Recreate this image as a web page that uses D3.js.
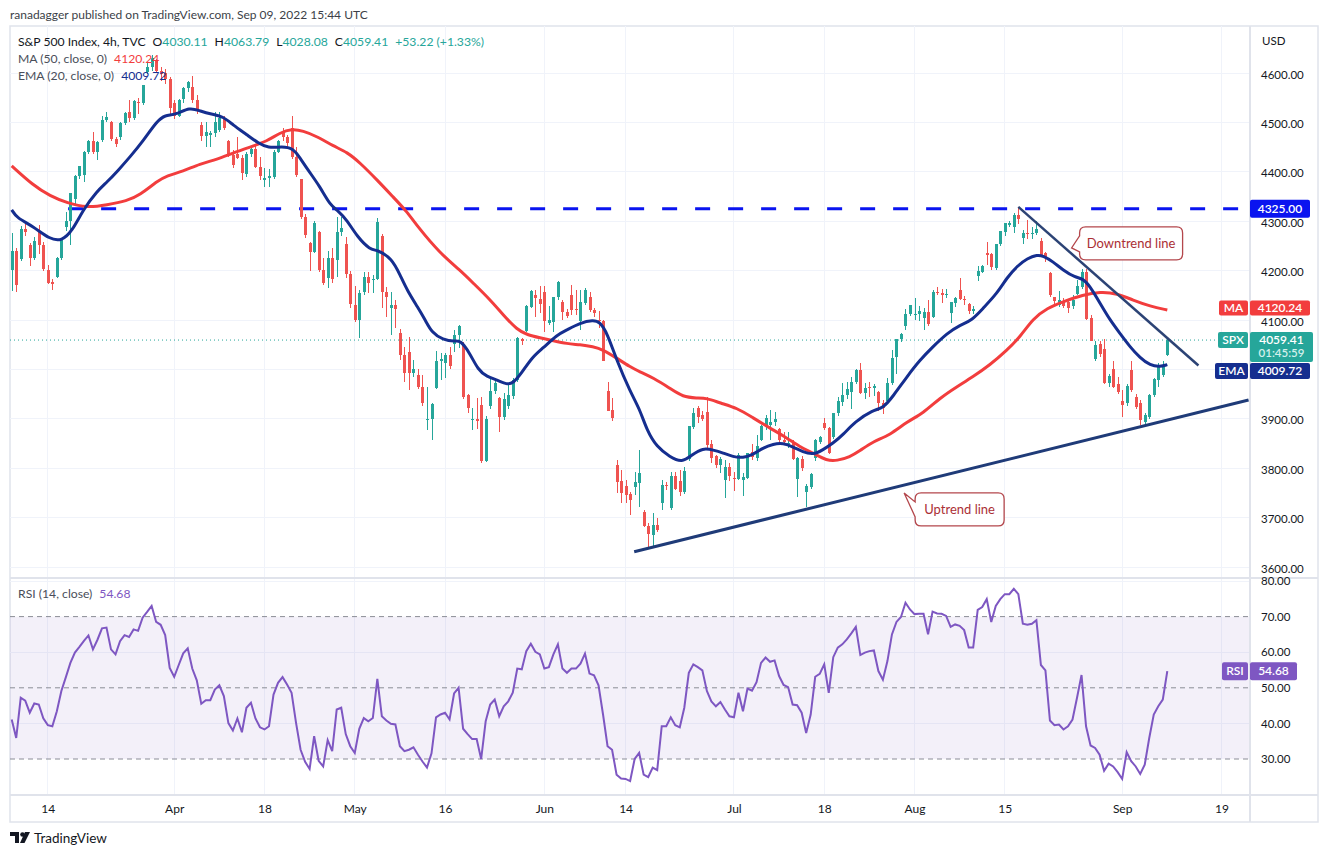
<!DOCTYPE html>
<html>
<head>
<meta charset="utf-8">
<script src="https://cdn.jsdelivr.net/npm/d3@7"></script>
<style>
  body { margin: 0; background: #fff; }
  svg text { font-family: Lato, "Noto Sans", sans-serif; }
</style>
</head>
<body>
<div id="chart"></div>
<script>
// ---- data (4h candles, 8 Mar - 9 Sep 2022) ----
var opens = [
4202,4240,4223,4285,4252,4226,4279,4252,4202,4177,
4188,4225,4288,4300,4345,4391,4394,4440,4462,4440,
4465,4505,4500,4466,4470,4498,4522,4508,4541,4540,
4602,4612,4624,4605,4599,4588,4540,4512,4547,4570,
4572,4545,4494,4472,4474,4478,4485,4508,4462,4434,
4437,4428,4395,4437,4447,4410,4384,4387,4390,4441,
4478,4470,4489,4430,4385,4308,4255,4238,4278,4201,
4186,4225,4222,4279,4253,4194,4130,4100,4157,4188,
4181,4184,4270,4157,4124,4130,4074,4030,4036,3992,
3989,3965,3897,3900,3963,4016,4013,4029,4052,4070,
4051,3948,3899,3900,3927,3815,3926,3956,3942,3904,
3925,3946,3979,4061,4077,4127,4151,4142,4157,4093,
4095,4147,4137,4117,4151,4122,4097,4135,4147,4120,
4101,4097,3956,3917,3807,3775,3764,3748,3761,3771,
3712,3682,3665,3685,3729,3766,3720,3785,3774,3751,
3819,3884,3921,3908,3913,3850,3825,3807,3776,3803,
3781,3778,3776,3781,3833,3820,3857,3884,3888,3894,
3880,3858,3851,3852,3779,3819,3751,3761,3820,3854,
3892,3881,3864,3911,3933,3948,3955,3975,3999,3952,
3965,3962,3954,3931,3936,3972,4026,4061,4087,4112,
4112,4113,4104,4117,4107,4157,4154,4150,4115,4135,
4161,4142,4133,4118,4189,4198,4236,4233,4205,4254,
4279,4292,4289,4313,4267,4277,4275,4276,4259,4235,
4196,4146,4130,4139,4137,4128,4153,4166,4198,4105,
4022,4051,4041,3972,4000,3970,3936,3931,3999,3945,
3931,3894,3904,3948,3979,3989,4030.11];
var highs = [
4276,4245,4290,4298,4256,4269,4292,4258,4212,4182,
4228,4265,4318,4358,4393,4412,4442,4465,4481,4462,
4512,4522,4502,4470,4500,4521,4546,4546,4550,4576,
4620,4637,4628,4612,4608,4592,4545,4548,4572,4584,
4593,4556,4500,4500,4482,4521,4521,4512,4464,4445,
4471,4434,4440,4452,4452,4430,4407,4405,4445,4465,
4488,4475,4512,4450,4386,4315,4258,4300,4280,4225,
4240,4245,4309,4308,4269,4200,4169,4160,4198,4198,
4191,4306,4275,4167,4157,4140,4081,4046,4066,4020,
4000,3989,3965,3931,4038,4033,4033,4046,4080,4090,
4055,3950,3921,3942,3944,3905,3982,3982,3945,3952,
3969,3982,4065,4063,4130,4160,4161,4168,4168,4128,
4147,4178,4141,4122,4171,4161,4161,4164,4157,4124,
4119,4100,3974,3942,3817,3796,3776,3752,3793,3837,
3715,3690,3709,3700,3776,3772,3793,3793,3796,3803,
3886,3921,3925,3915,3945,3858,3827,3822,3817,3810,
3792,3830,3790,3831,3850,3867,3888,3908,3918,3914,
3881,3874,3873,3858,3822,3825,3768,3790,3860,3866,
3902,3884,3912,3945,3972,3975,3985,4000,4013,3972,
3975,3970,3956,3938,3982,4039,4061,4073,4122,4131,
4144,4128,4125,4140,4160,4167,4162,4163,4137,4147,
4186,4148,4135,4128,4210,4211,4258,4235,4254,4280,
4296,4300,4316,4326,4282,4302,4289,4300,4267,4237,
4198,4147,4159,4145,4140,4150,4180,4203,4203,4110,
4058,4058,4062,3990,4016,3985,3958,3970,4018,3950,
3938,3912,3950,3982,4012,4018,4063.79];
var lows = [
4158,4157,4220,4270,4209,4222,4234,4200,4172,4161,
4185,4222,4280,4251,4335,4385,4380,4436,4436,4424,
4460,4500,4462,4450,4465,4495,4501,4505,4517,4535,
4597,4605,4600,4583,4578,4516,4507,4510,4540,4562,
4540,4516,4462,4451,4450,4470,4480,4485,4430,4407,
4425,4383,4390,4430,4408,4384,4370,4370,4385,4438,
4462,4450,4425,4390,4305,4267,4200,4235,4198,4170,
4165,4175,4188,4270,4185,4125,4095,4063,4150,4154,
4154,4180,4124,4107,4070,4083,4020,3975,3958,3985,
3960,3925,3877,3857,3960,3979,3982,4000,4036,4043,
3940,3911,3877,3880,3810,3812,3920,3950,3874,3898,
3920,3940,3975,4050,4075,4125,4107,4114,4076,4090,
4076,4140,4100,4104,4110,4110,4080,4130,4117,4107,
4083,4016,3915,3896,3749,3729,3729,3705,3745,3722,
3680,3638,3638,3670,3715,3755,3716,3755,3744,3748,
3815,3880,3891,3895,3840,3810,3800,3790,3740,3775,
3753,3776,3743,3778,3817,3815,3855,3878,3858,3885,
3850,3847,3840,3817,3741,3795,3721,3758,3815,3850,
3878,3828,3860,3905,3925,3940,3920,3970,3950,3940,
3945,3946,3915,3910,3930,3968,3990,4055,4080,4108,
4099,4097,4080,4088,4105,4150,4134,4145,4094,4127,
4140,4130,4112,4112,4178,4195,4212,4201,4202,4250,
4270,4288,4277,4295,4254,4263,4263,4272,4228,4218,
4146,4128,4127,4125,4115,4122,4150,4162,4100,4057,
4017,4026,3970,3965,3962,3950,3903,3925,3955,3920,
3888,3886,3900,3945,3965,3985,4028.08];
var closes = [
4240,4170,4285,4278,4226,4260,4252,4204,4175,4173,
4225,4262,4300,4357,4391,4411,4440,4463,4440,4460,
4505,4511,4466,4456,4498,4520,4508,4543,4540,4575,
4612,4631,4605,4598,4588,4530,4512,4545,4570,4582,
4545,4525,4472,4481,4478,4500,4508,4488,4434,4413,
4428,4397,4437,4447,4410,4392,4387,4391,4441,4462,
4470,4459,4430,4393,4308,4272,4238,4296,4201,4175,
4225,4183,4279,4287,4194,4132,4100,4154,4188,4174,
4184,4299,4157,4147,4130,4123,4030,3992,3992,4001,
3965,3931,3900,3930,4018,4022,4029,4006,4070,4088,
3945,3921,3900,3895,3815,3900,3956,3972,3904,3940,
3948,3979,4063,4057,4128,4158,4144,4132,4097,4101,
4147,4176,4117,4108,4120,4121,4137,4160,4120,4115,
4097,4018,3915,3901,3773,3750,3746,3735,3773,3790,
3682,3666,3685,3674,3766,3763,3785,3757,3751,3794,
3885,3911,3904,3899,3847,3820,3807,3818,3803,3785,
3778,3827,3783,3830,3823,3844,3886,3901,3894,3899,
3858,3854,3852,3819,3820,3801,3763,3788,3857,3863,
3881,3830,3912,3937,3948,3960,3975,3999,3952,3962,
3962,3967,3931,3921,3972,4023,4061,4072,4112,4130,
4113,4119,4117,4091,4157,4155,4150,4152,4137,4145,
4142,4140,4119,4122,4199,4210,4232,4207,4254,4280,
4296,4297,4313,4305,4277,4274,4277,4284,4232,4228,
4150,4138,4141,4128,4124,4141,4168,4198,4103,4058,
4050,4031,3972,3986,3965,3955,3928,3967,3958,3924,
3898,3908,3948,3980,4009,4006,4059.41];

// MA(50) and EMA(20) read at [candle index, value]
var maPts = [[0,4412],[4.7,4373],[8.5,4351],[12.3,4337],[16.7,4327],[21.1,4333],[25.5,4341],[28.4,4353],
[32.2,4381],[34.4,4392],[37.9,4401],[41.7,4416],[45.5,4425],[49,4438],[52.8,4450],[56.6,4462],[59.4,4479],
[62.1,4487],[64.5,4483],[67.6,4472],[71.2,4452],[74.3,4440],[77.2,4418],[81,4383],[84.5,4349],[87.6,4319],
[90,4288],[94.9,4235],[99.3,4201],[102.2,4175],[106,4141],[108.9,4110],[112,4080],[114.2,4070],[117,4064],
[120,4058],[123,4052],[125.9,4050],[128.8,4046],[131,4040],[134,4023],[137,4005],[139.2,3995],[142.1,3983],
[145.8,3962],[148.7,3944],[151.8,3942],[154,3942],[156.9,3932],[160.7,3922],[164.2,3902],[168,3881],
[171.8,3861],[174.6,3843],[177.5,3831],[180.6,3815],[182.8,3815],[185.7,3823],[187.9,3835],[190.8,3854],
[194.6,3867],[198.3,3894],[201.9,3911],[205.6,3942],[209.4,3965],[212.9,3985],[216.7,4009],[220.5,4039],
[223.4,4066],[226.3,4103],[229.4,4124],[232.9,4137],[237.3,4151],[241.1,4157],[244.9,4154],[248.4,4140],
[252.2,4128],[256,4120.24]];
var emaPts = [[0,4323],[1.1,4307],[4.7,4290],[8.5,4263],[11.1,4260],[13.4,4280],[15.8,4323],[18.9,4361],
[21.1,4379],[23.5,4402],[26.2,4430],[29.1,4462],[32.2,4503],[34,4515],[36.2,4515],[39.5,4531],[41.7,4523],
[44.6,4516],[46.8,4512],[49,4495],[52.1,4475],[54.6,4458],[56.8,4448],[59.9,4451],[62.3,4448],[63.9,4428],
[65.6,4404],[68.3,4370],[70.5,4333],[72.3,4321],[74.3,4302],[76.5,4269],[79.4,4242],[81,4242],[84.2,4225],
[86.1,4190],[87.6,4160],[90,4125],[91.6,4100],[93.1,4074],[95.5,4060],[98.2,4056],[99.3,4060],[101.5,4033],
[103.3,3999],[105.3,3985],[107.5,3979],[109.7,3969],[111.1,3972],[113,3993],[115.3,4025],[117.7,4043],
[120.8,4070],[123,4080],[125.9,4094],[128.8,4100],[130.3,4096],[131.9,4074],[134,4019],[137,3955],
[139.2,3918],[140.7,3877],[142.9,3843],[145.8,3823],[148.5,3811],[150.7,3827],[153.1,3841],[155.4,3837],
[157.6,3831],[159.8,3823],[162,3821],[164.2,3827],[166.4,3841],[168.7,3849],[170.9,3851],[173.1,3843],
[175.3,3833],[177.5,3827],[179.7,3837],[182,3851],[184.2,3868],[186.8,3894],[190.8,3918],[193,3921],
[195.2,3945],[198.3,3985],[201.2,4019],[204.1,4046],[207.2,4073],[210.1,4090],[212.7,4099],[215.2,4124],
[218.3,4154],[220.5,4186],[222.7,4209],[225,4225],[227.2,4232],[228.5,4230],[230.7,4218],[232.9,4201],
[235.6,4186],[237.3,4184],[238.9,4168],[241.1,4134],[243.3,4100],[245.5,4073],[247.7,4046],[250,4023],
[252.2,4008],[254.4,4005],[256,4009.72]];

// RSI(14), one value per candle
var rsi = [
41.1,35.9,47.2,46.4,43.0,45.6,45.3,41.4,39.5,39.2,
43.4,49.1,53.0,57.0,59.9,61.5,63.2,64.7,60.8,63.5,
66.7,66.9,60.8,59.4,63.1,64.8,64.3,66.4,66.0,69.7,
71.3,73.0,68.5,67.7,64.8,55.6,53.1,56.4,59.7,61.1,
55.4,52.1,45.5,46.5,46.5,49.5,50.7,47.7,40.1,38.0,
41.4,37.5,44.4,45.8,41.4,38.9,38.3,39.2,48.1,51.4,
53.0,50.9,48.6,40.1,32.6,29.2,27.2,36.4,29.5,27.9,
35.3,32.2,43.9,44.4,37.0,33.6,31.7,38.5,41.5,40.6,
41.5,52.5,42.0,40.8,39.9,39.7,33.6,32.2,32.6,33.3,
31.2,29.3,27.6,31.6,41.7,42.5,43.0,41.1,48.4,50.0,
38.5,37.0,35.6,35.6,30.0,40.6,45.3,46.7,42.0,44.8,
46.2,48.6,55.4,55.2,60.3,62.4,60.1,59.4,55.4,55.8,
59.4,62.2,55.4,54.2,55.4,55.4,56.8,59.6,54.0,53.5,
50.7,42.5,33.6,32.6,25.6,24.5,24.4,23.8,30.0,31.7,
25.6,24.9,27.6,26.9,39.2,39.2,41.7,39.5,38.9,44.4,
54.2,56.6,55.8,54.9,49.1,46.2,44.8,46.0,43.9,42.0,
41.7,48.6,43.4,49.8,49.2,51.6,57.0,58.5,57.3,57.7,
53.3,50.8,50.2,45.3,45.1,43.0,37.3,42.5,53.1,53.9,
56.6,48.6,58.6,61.3,62.2,63.6,65.3,67.1,59.2,59.9,
60.3,60.5,54.7,52.3,57.5,65.0,68.5,69.9,73.9,72.0,
70.7,70.8,70.8,65.0,71.4,70.9,70.8,70.2,67.1,67.8,
67.4,66.2,61.3,61.3,71.9,72.7,74.9,68.5,73.0,74.9,
76.3,76.3,77.8,76.3,68.0,67.7,68.0,69.0,56.4,54.9,
40.8,39.5,39.7,38.3,39.2,41.1,47.2,53.6,39.2,33.8,
33.1,31.2,26.7,28.7,27.9,26.3,24.4,31.9,29.4,27.9,
25.8,28.4,35.9,42.5,44.8,46.7,54.68];

// x-axis: candle index of the first candle of each labelled day
var xTickIdx = [8, 36, 56, 76, 96, 118, 136, 160, 180, 200, 220, 246, 268];
var xTickLabels = ["14", "Apr", "18", "May", "16", "Jun", "14", "Jul", "18", "Aug", "15", "Sep", "19"];
var priceTicks = [3600, 3700, 3800, 3900, 4000, 4100, 4200, 4300, 4400, 4500, 4600];
var priceLabelTicks = [3600, 3700, 3800, 3900, 4100, 4200, 4300, 4400, 4500, 4600]; // 4000 sits under the EMA tag
var rsiTicks = [30, 40, 50, 60, 70, 80];

// drawings: [candle index, price]
var resistance = 4325;
var resistanceFrom = 12.5;
var uptrend = [[137.9, 3631], [274, 3938]];
var downtrend = [[223, 4329], [262.9, 4008]];
var lastPrice = 4059.41, maLast = 4120.24, emaLast = 4009.72, rsiLast = 54.68;

// ---- layout ----
var W = 1328, H = 857;
var L = 10, R = 1250, FR = 1318;
var pTop = 26, pBot = 578, rBot = 795, fBot = 822;

var col = {
  up: "#26a69a", down: "#ef5350", ma: "#f23d3d", ema: "#152e8f",
  rsi: "#7e57c2", grid: "#f0f3fa", border: "#e0e3eb", text: "#131722",
  note: "#ab2f35", level: "#0a14f0", trend: "#1f3b78"
};

var svg = d3.select("#chart").append("svg")
  .attr("width", W).attr("height", H);

var x = d3.scaleLinear().domain([0, 256]).range([11.7, 1167.3]);
var y = d3.scaleLinear().domain([3600, 4600]).range([567, 73]);
var yR = d3.scaleLinear().domain([30, 80]).range([759, 581]);

var defs = svg.append("defs");
defs.append("clipPath").attr("id", "clipP").append("rect")
  .attr("x", L).attr("y", pTop).attr("width", R - L).attr("height", pBot - pTop);
defs.append("clipPath").attr("id", "clipR").append("rect")
  .attr("x", L).attr("y", pBot).attr("width", R - L).attr("height", rBot - pBot);

// header line
svg.append("text").attr("x", 10).attr("y", 19)
  .attr("font-size", 12).attr("fill", "#3c3f48")
  .text("ranadagger published on TradingView.com, Sep 09, 2022 15:44 UTC");

// frame
svg.append("rect").attr("x", L).attr("y", pTop).attr("width", FR - L).attr("height", fBot - pTop)
  .attr("fill", "#fff").attr("stroke", col.border).attr("stroke-width", 1.5);

// grid
var grid = svg.append("g").attr("shape-rendering", "crispEdges");
grid.selectAll(".hg").data(priceTicks).enter().append("line")
  .attr("x1", L).attr("x2", R).attr("y1", function(d){ return y(d); }).attr("y2", function(d){ return y(d); })
  .attr("stroke", col.grid);
grid.selectAll(".vg").data(xTickIdx).enter().append("line")
  .attr("x1", function(d){ return x(d); }).attr("x2", function(d){ return x(d); })
  .attr("y1", pTop).attr("y2", rBot).attr("stroke", col.grid);

// RSI band + levels
svg.append("rect").attr("x", L).attr("width", R - L)
  .attr("y", yR(70)).attr("height", yR(30) - yR(70))
  .attr("fill", "rgba(126,87,194,0.09)");
grid.selectAll(".rg").data([40, 60, 80]).enter().append("line")
  .attr("x1", L).attr("x2", R).attr("y1", function(d){ return yR(d); }).attr("y2", function(d){ return yR(d); })
  .attr("stroke", col.grid);
svg.selectAll(".rl").data([70, 50, 30]).enter().append("line")
  .attr("x1", L).attr("x2", R).attr("y1", function(d){ return yR(d); }).attr("y2", function(d){ return yR(d); })
  .attr("stroke", "#8a8d96").attr("stroke-dasharray", "5,4").attr("stroke-width", 1);

// pane separators and axis border
var sep = svg.append("g").attr("stroke", col.border).attr("shape-rendering", "crispEdges");
sep.append("line").attr("x1", L).attr("x2", FR).attr("y1", pBot).attr("y2", pBot).attr("stroke-width", 2);
sep.append("line").attr("x1", L).attr("x2", FR).attr("y1", rBot).attr("y2", rBot).attr("stroke-width", 1.5);
sep.append("line").attr("x1", R).attr("x2", R).attr("y1", pTop).attr("y2", fBot).attr("stroke-width", 1.5);

var pane = svg.append("g").attr("clip-path", "url(#clipP)");

// resistance level
pane.append("line")
  .attr("x1", x(resistanceFrom)).attr("x2", R)
  .attr("y1", y(resistance)).attr("y2", y(resistance))
  .attr("stroke", col.level).attr("stroke-width", 3).attr("stroke-dasharray", "15,18");

// last price dotted line
pane.append("line").attr("x1", L).attr("x2", R)
  .attr("y1", y(lastPrice)).attr("y2", y(lastPrice))
  .attr("stroke", col.up).attr("stroke-width", 1).attr("stroke-dasharray", "1,3");

// candles
var candles = d3.range(closes.length).map(function(i){
  return { i: i, o: opens[i], h: highs[i], l: lows[i], c: closes[i] };
});
var cg = pane.append("g").attr("shape-rendering", "crispEdges");
var cand = cg.selectAll("g.c").data(candles).enter().append("g");
cand.append("line")
  .attr("x1", function(d){ return Math.round(x(d.i)) + 0.5; })
  .attr("x2", function(d){ return Math.round(x(d.i)) + 0.5; })
  .attr("y1", function(d){ return y(d.h); }).attr("y2", function(d){ return y(d.l); })
  .attr("stroke", function(d){ return d.c >= d.o ? col.up : col.down; });
cand.append("rect")
  .attr("x", function(d){ return Math.round(x(d.i)) - 1; })
  .attr("width", 3)
  .attr("y", function(d){ return y(Math.max(d.o, d.c)); })
  .attr("height", function(d){ return Math.max(1, Math.abs(y(d.o) - y(d.c))); })
  .attr("fill", function(d){ return d.c >= d.o ? col.up : col.down; });

// moving averages
var avgLine = d3.line().x(function(d){ return x(d[0]); }).y(function(d){ return y(d[1]); })
  .curve(d3.curveBasis);
pane.append("path").attr("d", avgLine(maPts)).attr("fill", "none")
  .attr("stroke", col.ma).attr("stroke-width", 3);
pane.append("path").attr("d", avgLine(emaPts)).attr("fill", "none")
  .attr("stroke", col.ema).attr("stroke-width", 3);

// trend lines
var seg = d3.line().x(function(d){ return x(d[0]); }).y(function(d){ return y(d[1]); });
pane.append("path").attr("d", seg(uptrend)).attr("stroke", col.trend).attr("stroke-width", 3).attr("fill", "none");
pane.append("path").attr("d", seg(downtrend)).attr("stroke", "#2c4375").attr("stroke-width", 2.5).attr("fill", "none");

// callouts
function callout(tip, box, base, label) {
  var tx = x(tip[0]), ty = y(tip[1]);
  var l = tx + box[0], r = tx + box[1], t = ty + box[2], b = ty + box[3], rr = 6;
  var p = "M" + (l + rr) + "," + t + " H" + (r - rr) + " Q" + r + "," + t + " " + r + "," + (t + rr) +
    " V" + (b - rr) + " Q" + r + "," + b + " " + (r - rr) + "," + b +
    " H" + (l + rr) + " Q" + l + "," + b + " " + l + "," + (b - rr) +
    " V" + (ty + base[1]) + " L" + tx + "," + ty + " L" + l + "," + (ty + base[0]) +
    " V" + (t + rr) + " Q" + l + "," + t + " " + (l + rr) + "," + t + " Z";
  pane.append("path").attr("d", p).attr("fill", "#fff")
    .attr("stroke", "#b4474c").attr("stroke-width", 1.3);
  pane.append("text").attr("x", (l + r) / 2).attr("y", (t + b) / 2 + 4.5)
    .attr("text-anchor", "middle").attr("font-size", 13).attr("fill", col.note)
    .text(label);
}
callout([234.8, 4246], [8, 111, -21, 12], [-12, 4], "Downtrend line");
callout([197.7, 3750], [11, 100, 0, 33], [9, 24], "Uptrend line");

// RSI line
var rp = svg.append("g").attr("clip-path", "url(#clipR)");
rp.append("path")
  .attr("d", d3.line().x(function(d, i){ return x(i); }).y(function(d){ return yR(d); })(rsi))
  .attr("fill", "none").attr("stroke", col.rsi).attr("stroke-width", 2);

// axes
var yAxis = svg.append("g").attr("transform", "translate(" + R + ",0)")
  .call(d3.axisRight(y).tickValues(priceLabelTicks).tickSize(0).tickPadding(11).tickFormat(d3.format(".2f")));
var rAxis = svg.append("g").attr("transform", "translate(" + R + ",0)")
  .call(d3.axisRight(yR).tickValues(rsiTicks).tickSize(0).tickPadding(11).tickFormat(d3.format(".2f")));
var xAxis = svg.append("g").attr("transform", "translate(0," + rBot + ")")
  .call(d3.axisBottom(x).tickValues(xTickIdx).tickSize(0).tickPadding(7)
    .tickFormat(function(d, i){ return xTickLabels[i]; }));
[yAxis, rAxis, xAxis].forEach(function(a){
  a.select(".domain").remove();
  a.selectAll("text").attr("font-size", 11.5).attr("fill", col.text)
    .style("font-family", "Lato, 'Noto Sans', sans-serif");
});
xAxis.selectAll("text").attr("font-size", 12).attr("dy", "0.9em");
yAxis.selectAll("text").attr("dy", "0.45em");

svg.append("text").attr("x", 1262).attr("y", 45).attr("font-size", 11.5).attr("fill", col.text).text("USD");

// price tags on the axis
function tag(x0, x1, yc, h, fill, txt) {
  var g = svg.append("g");
  g.append("rect").attr("x", x0).attr("y", yc - h / 2).attr("width", x1 - x0).attr("height", h)
    .attr("rx", 2).attr("fill", fill);
  g.append("text").attr("x", (x0 + x1) / 2).attr("y", yc + 4.3)
    .attr("text-anchor", "middle").attr("font-size", 12).attr("font-weight", 600)
    .attr("fill", "#fff").text(txt);
}
var f2 = d3.format(".2f");
var maY = y(maLast) - 2, emaY = y(lastPrice) + 31;
tag(1250, 1310, y(resistance), 18, col.level, f2(resistance));
tag(1219, 1248, maY, 15, col.ma, "MA");
tag(1250, 1310, maY, 15, col.ma, f2(maLast));
tag(1218, 1248, y(lastPrice), 16, col.up, "SPX");
svg.append("rect").attr("x", 1250).attr("y", y(lastPrice) - 8).attr("width", 63).attr("height", 30)
  .attr("rx", 2).attr("fill", col.up);
svg.append("text").attr("x", 1281.5).attr("y", y(lastPrice) + 4.3).attr("text-anchor", "middle")
  .attr("font-size", 12).attr("font-weight", 600).attr("fill", "#fff").text(f2(lastPrice));
svg.append("text").attr("x", 1281.5).attr("y", y(lastPrice) + 17).attr("text-anchor", "middle")
  .attr("font-size", 11.5).attr("font-weight", 600).attr("fill", "#d3f0ec").text("01:45:59");
tag(1215, 1248, emaY, 16, col.ema, "EMA");
tag(1250, 1310, emaY, 16, col.ema, f2(emaLast));
tag(1222, 1248, yR(rsiLast), 18, col.rsi, "RSI");
tag(1250, 1297, yR(rsiLast), 18, col.rsi, f2(rsiLast));

// legends
var lg = svg.append("g").attr("font-size", 12.2);
var t1 = lg.append("text").attr("x", 18).attr("y", 46).attr("fill", col.text);
t1.append("tspan").text("S&P 500 Index, 4h, TVC");
[["O", "4030.11"], ["H", "4063.79"], ["L", "4028.08"], ["C", "4059.41"]].forEach(function(p){
  t1.append("tspan").attr("dx", 7).attr("fill", col.text).text(p[0]);
  t1.append("tspan").attr("fill", col.up).text(p[1]);
});
t1.append("tspan").attr("dx", 7).attr("fill", col.up).text("+53.22 (+1.33%)");
var t2 = lg.append("text").attr("x", 18).attr("y", 63).attr("fill", "#4a4e59");
t2.append("tspan").text("MA (50, close, 0)");
t2.append("tspan").attr("dx", 7).attr("fill", col.ma).text(f2(maLast));
var t3 = lg.append("text").attr("x", 18).attr("y", 80).attr("fill", "#4a4e59");
t3.append("tspan").text("EMA (20, close, 0)");
t3.append("tspan").attr("dx", 7).attr("fill", col.ema).text(f2(emaLast));
var t4 = lg.append("text").attr("x", 18).attr("y", 598).attr("fill", "#4a4e59");
t4.append("tspan").text("RSI (14, close)");
t4.append("tspan").attr("dx", 7).attr("fill", col.rsi).text(f2(rsiLast));

// footer logo
var logo = svg.append("g").attr("fill", "#131722");
logo.append("path").attr("d", "M10,832 h9 v11 h-4 v-7 h-5 z");
logo.append("circle").attr("cx", 22.5).attr("cy", 834.5).attr("r", 2.3);
logo.append("path").attr("d", "M25,832 h5 l-5.5,11 h-4.5 z");
svg.append("text").attr("x", 34).attr("y", 843).attr("font-size", 13.5).attr("fill", "#131722").text("TradingView");
</script>
</body>
</html>
